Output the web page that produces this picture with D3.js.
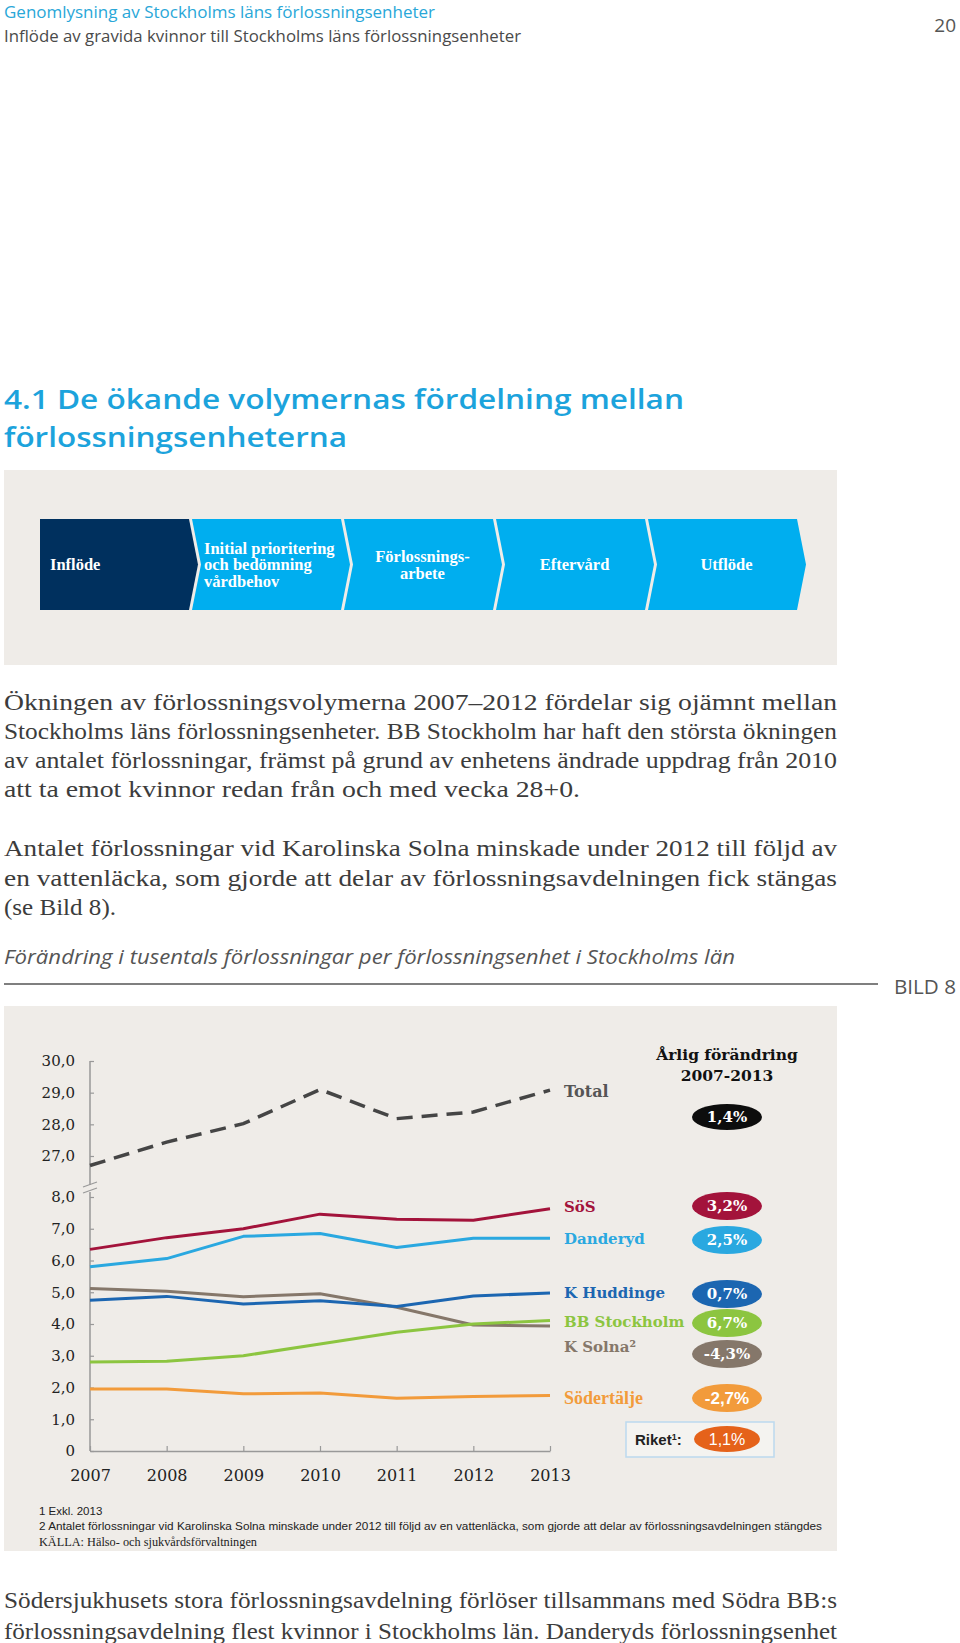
<!DOCTYPE html>
<html><head><meta charset="utf-8">
<script src="https://cdn.jsdelivr.net/npm/d3@7"></script>
<style>html,body{margin:0;padding:0;background:#fff;} svg{display:block;}</style>
</head><body><svg id="page" width="960" height="1643"></svg>
<script>
// ---------- data ----------
const years = [2007, 2008, 2009, 2010, 2011, 2012, 2013];
const total = [26.70, 27.44, 28.02, 29.10, 28.18, 28.39, 29.08];
const sos = [6.35, 6.72, 7.00, 7.46, 7.30, 7.27, 7.63];
const danderyd = [5.80, 6.06, 6.76, 6.85, 6.41, 6.70, 6.70];
const huddinge = [4.75, 4.87, 4.63, 4.73, 4.55, 4.88, 4.98];
const bbStockholm = [2.80, 2.83, 3.00, 3.37, 3.74, 4.00, 4.11];
const solna = [5.12, 5.03, 4.86, 4.95, 4.53, 3.97, 3.94];
const sodertalje = [1.95, 1.95, 1.80, 1.83, 1.66, 1.72, 1.75];
const seriesNames = ["Total", "SöS", "Danderyd", "K Huddinge", "BB Stockholm", "K Solna²", "Södertälje"];
const annualChange = ["1,4%", "3,2%", "2,5%", "0,7%", "6,7%", "-4,3%", "-2,7%"];
const riketChange = "1,1%";
const upperTicks = [27, 28, 29, 30];
const lowerTicks = [0, 1, 2, 3, 4, 5, 6, 7, 8];
const steps = [["Inflöde"], ["Initial prioritering", "och bedömning", "vårdbehov"], ["Förlossnings-", "arbete"], ["Eftervård"], ["Utflöde"]];

// ---------- helpers ----------
const svg = d3.select("#page");
function txt(g, x, y, s, o = {}) {
  const t = g.append("text").attr("x", x).attr("y", y).attr("dy", o.dy || "0.35em")
    .attr("font-family", o.family || "'Liberation Serif', serif")
    .attr("font-size", o.size || 16)
    .attr("font-weight", o.weight || "normal")
    .attr("font-style", o.style || "normal")
    .attr("fill", o.fill || "#333")
    .attr("text-anchor", o.anchor || "start")
    .text(s);
  if (o.len) t.attr("textLength", o.len).attr("lengthAdjust", o.adjust || "spacingAndGlyphs");
  return t;
}
const SANS = "'Open Sans', 'Noto Sans', sans-serif";
const SERIF = "'Liberation Serif', serif";
const DSERIF = "'DejaVu Serif', serif";

// ---------- header ----------
txt(svg, 4, 12, "Genomlysning av Stockholms läns förlossningsenheter", {family: SANS, size: 17, fill: "#29a7d8", len: 431});
txt(svg, 4, 36, "Inflöde av gravida kvinnor till Stockholms läns förlossningsenheter", {family: SANS, size: 17, fill: "#4a4a4a", len: 517});
txt(svg, 956, 25, "20", {family: SANS, size: 19, fill: "#555", anchor: "end"});

txt(svg, 4, 400, "4.1 De ökande volymernas fördelning mellan", {family: SANS, size: 27, weight: 600, fill: "#1ca3dc", len: 680});
txt(svg, 4, 437.5, "förlossningsenheterna", {family: SANS, size: 27, weight: 600, fill: "#1ca3dc", len: 343});

// ---------- process chevrons ----------
svg.append("rect").attr("x", 4).attr("y", 470).attr("width", 833).attr("height", 195).attr("fill", "#efece8");
const band = d3.scaleBand().domain(d3.range(steps.length)).range([40, 800]).paddingInner(0);
const cTop = 519, cBot = 610, cMid = (cTop + cBot) / 2, body = 149, tip = 9;
steps.forEach((lines, i) => {
  const s = band(i);
  const pts = [[s, cTop], [s + body, cTop], [s + body + tip, cMid], [s + body, cBot], [s, cBot]];
  if (i > 0) pts.push([s + tip, cMid]);
  svg.append("polygon").attr("points", pts.map(p => p.join(",")).join(" "))
    .attr("fill", i === 0 ? "#00305e" : "#00aeef");
  const n = lines.length;
  const left = (i <= 1);
  const tx = i === 0 ? s + 10 : (i === 1 ? s + 12 : s + body / 2 + 4);
  lines.forEach((l, k) => {
    txt(svg, tx, cMid + (k - (n - 1) / 2) * 16.5, l, {family: SERIF, size: 16.5, weight: "bold", fill: "#fff", anchor: left ? "start" : "middle"});
  });
});

// ---------- body text ----------
const PF = {family: SERIF, size: 23, fill: "#3c3c3c"};
const para1 = ["Ökningen av förlossningsvolymerna 2007–2012 fördelar sig ojämnt mellan",
  "Stockholms läns förlossningsenheter. BB Stockholm har haft den största ökningen",
  "av antalet förlossningar, främst på grund av enhetens ändrade uppdrag från 2010",
  "att ta emot kvinnor redan från och med vecka 28+0."];
const p1y = [702, 731, 760, 789];
para1.forEach((l, i) => txt(svg, 4, p1y[i], l, Object.assign({}, PF, {len: i < 3 ? 833 : 576})));
const para2 = ["Antalet förlossningar vid Karolinska Solna minskade under 2012 till följd av",
  "en vattenläcka, som gjorde att delar av förlossningsavdelningen fick stängas",
  "(se Bild 8)."];
const p2y = [848, 878, 907];
para2.forEach((l, i) => txt(svg, 4, p2y[i], l, Object.assign({}, PF, {len: i < 2 ? 833 : 112})));

txt(svg, 4, 957, "Förändring i tusentals förlossningar per förlossningsenhet i Stockholms län", {family: SANS, size: 20, style: "italic", fill: "#555", len: 731});
svg.append("line").attr("x1", 4).attr("x2", 878).attr("y1", 984).attr("y2", 984).attr("stroke", "#555").attr("stroke-width", 1.3);
txt(svg, 894, 987, "BILD 8", {family: SANS, size: 20, fill: "#555", len: 62});

// ---------- chart ----------
svg.append("rect").attr("x", 4).attr("y", 1006).attr("width", 833).attr("height", 545).attr("fill", "#efece8");
const x = d3.scalePoint().domain(years).range([90, 550]);
const lowerY = d3.scaleLinear().domain([0, 8]).range([1451, 1197]);
const upperY = d3.scaleLinear().domain([27, 30]).range([1156, 1061]);
const fmt = d => d === 0 ? "0" : d3.format(".1f")(d).replace(".", ",");

const chart = svg.append("g");
function styleAxis(g) {
  g.selectAll("path.domain").remove();
  g.selectAll("line").attr("stroke", "#999").attr("stroke-width", 1.2);
  g.selectAll("text").attr("font-family", DSERIF).attr("font-size", 15).attr("fill", "#222");
}
chart.append("g").attr("transform", "translate(90,0)")
  .call(d3.axisLeft(upperY).tickValues(upperTicks).tickFormat(fmt).tickSizeInner(-4).tickSizeOuter(0).tickPadding(15))
  .call(styleAxis);
chart.append("g").attr("transform", "translate(90,0)")
  .call(d3.axisLeft(lowerY).tickValues(lowerTicks).tickFormat(fmt).tickSizeInner(-4).tickSizeOuter(0).tickPadding(15))
  .call(styleAxis);
// axis lines with break
chart.append("line").attr("x1", 90).attr("x2", 90).attr("y1", upperY(30)).attr("y2", 1185).attr("stroke", "#999").attr("stroke-width", 1.5);
chart.append("line").attr("x1", 90).attr("x2", 90).attr("y1", 1192).attr("y2", lowerY(0)).attr("stroke", "#999").attr("stroke-width", 1.5);
chart.append("line").attr("x1", 83).attr("x2", 97).attr("y1", 1187).attr("y2", 1182).attr("stroke", "#999").attr("stroke-width", 1.2);
chart.append("line").attr("x1", 83).attr("x2", 97).attr("y1", 1193).attr("y2", 1188).attr("stroke", "#999").attr("stroke-width", 1.2);

const xa = chart.append("g").attr("transform", `translate(0,${lowerY(0)})`)
  .call(d3.axisBottom(x).tickSizeInner(-5).tickSizeOuter(0).tickPadding(19));
xa.select("path.domain").attr("stroke", "#999").attr("stroke-width", 1.5);
xa.selectAll("line").attr("stroke", "#999").attr("stroke-width", 1.2);
xa.selectAll("text").attr("font-family", DSERIF).attr("font-size", 16).attr("fill", "#222");

const series = [
  {name: seriesNames[1], values: sos, color: "#a3133b", chg: annualChange[1], ly: 1207, ey: 1206},
  {name: seriesNames[2], values: danderyd, color: "#2aa8e0", chg: annualChange[2], ly: 1239, ey: 1240},
  {name: seriesNames[5], values: solna, color: "#85776a", chg: annualChange[5], ly: 1347, ey: 1354},
  {name: seriesNames[3], values: huddinge, color: "#1c66b1", chg: annualChange[3], ly: 1293, ey: 1294},
  {name: seriesNames[4], values: bbStockholm, color: "#8cc540", chg: annualChange[4], ly: 1322, ey: 1323},
  {name: seriesNames[6], values: sodertalje, color: "#f29b3b", chg: annualChange[6], ly: 1398, ey: 1398}
];
const lineLower = d3.line().x((d, i) => x(years[i])).y(d => lowerY(d));
const lineUpper = d3.line().x((d, i) => x(years[i])).y(d => upperY(d));

chart.append("path").datum(total).attr("d", lineUpper).attr("fill", "none")
  .attr("stroke", "#454545").attr("stroke-width", 3.5).attr("stroke-dasharray", "16,9");
series.forEach(s => {
  chart.append("path").datum(s.values).attr("d", lineLower).attr("fill", "none")
    .attr("stroke", s.color).attr("stroke-width", 3).attr("stroke-linejoin", "round");
});

// legend labels and change ellipses
const LX = 564, EX = 727;
txt(chart, LX, 1091, seriesNames[0], {family: DSERIF, size: 16, weight: "bold", fill: "#555"});
txt(chart, EX, 1055, "Årlig förändring", {family: DSERIF, size: 15.5, weight: "bold", fill: "#111", anchor: "middle"});
txt(chart, EX, 1076, "2007-2013", {family: DSERIF, size: 15.5, weight: "bold", fill: "#111", anchor: "middle"});
chart.append("ellipse").attr("cx", EX).attr("cy", 1117).attr("rx", 35).attr("ry", 13).attr("fill", "#0d0d0d");
txt(chart, EX, 1117, annualChange[0], {family: DSERIF, size: 15, weight: "bold", fill: "#fff", anchor: "middle"});

series.forEach(s => {
  const isSod = s.name === "Södertälje";
  txt(chart, LX, s.ly, s.name, {family: isSod ? SERIF : DSERIF, size: isSod ? 18 : 15, weight: "bold", fill: s.color});
  chart.append("ellipse").attr("cx", EX).attr("cy", s.ey).attr("rx", 35).attr("ry", 14).attr("fill", s.color);
  txt(chart, EX, s.ey, s.chg, {family: isSod ? "'Liberation Sans Narrow','Liberation Sans',sans-serif" : DSERIF, size: isSod ? 17 : 15, weight: "bold", fill: "#fff", anchor: "middle"});
});

// Riket box
chart.append("rect").attr("x", 626).attr("y", 1422).attr("width", 148).attr("height", 35)
  .attr("fill", "#f4f3f0").attr("stroke", "#bcd9ee").attr("stroke-width", 1.5);
const rk = txt(chart, 635, 1440, "Riket", {family: "'Liberation Sans', sans-serif", size: 15, weight: "bold", fill: "#222"});
rk.append("tspan").attr("baseline-shift", "super").attr("font-size", 9).text("1");
rk.append("tspan").text(":");
chart.append("ellipse").attr("cx", EX).attr("cy", 1439).attr("rx", 33).attr("ry", 13).attr("fill", "#e5621a");
txt(chart, EX, 1439, riketChange, {family: "'Liberation Sans Narrow','Liberation Sans',sans-serif", size: 16, fill: "#fff", anchor: "middle"});

// footnotes
const NARROW = "'Liberation Sans Narrow','Liberation Sans',sans-serif";
txt(svg, 39, 1511, "1 Exkl. 2013", {family: NARROW, size: 11.5, fill: "#222"});
txt(svg, 39, 1526, "2 Antalet förlossningar vid Karolinska Solna minskade under 2012 till följd av en vattenläcka, som gjorde att delar av förlossningsavdelningen stängdes", {family: NARROW, size: 11.5, fill: "#222", len: 783});
txt(svg, 39, 1542, "KÄLLA: Hälso- och sjukvårdsförvaltningen", {family: SERIF, size: 11.5, fill: "#222", len: 218});

// bottom paragraph
const para3 = ["Södersjukhusets stora förlossningsavdelning förlöser tillsammans med Södra BB:s",
  "förlossningsavdelning flest kvinnor i Stockholms län. Danderyds förlossningsenhet"];
const p3y = [1600, 1631];
para3.forEach((l, i) => txt(svg, 4, p3y[i], l, Object.assign({}, PF, {len: 833})));
</script></body></html>
